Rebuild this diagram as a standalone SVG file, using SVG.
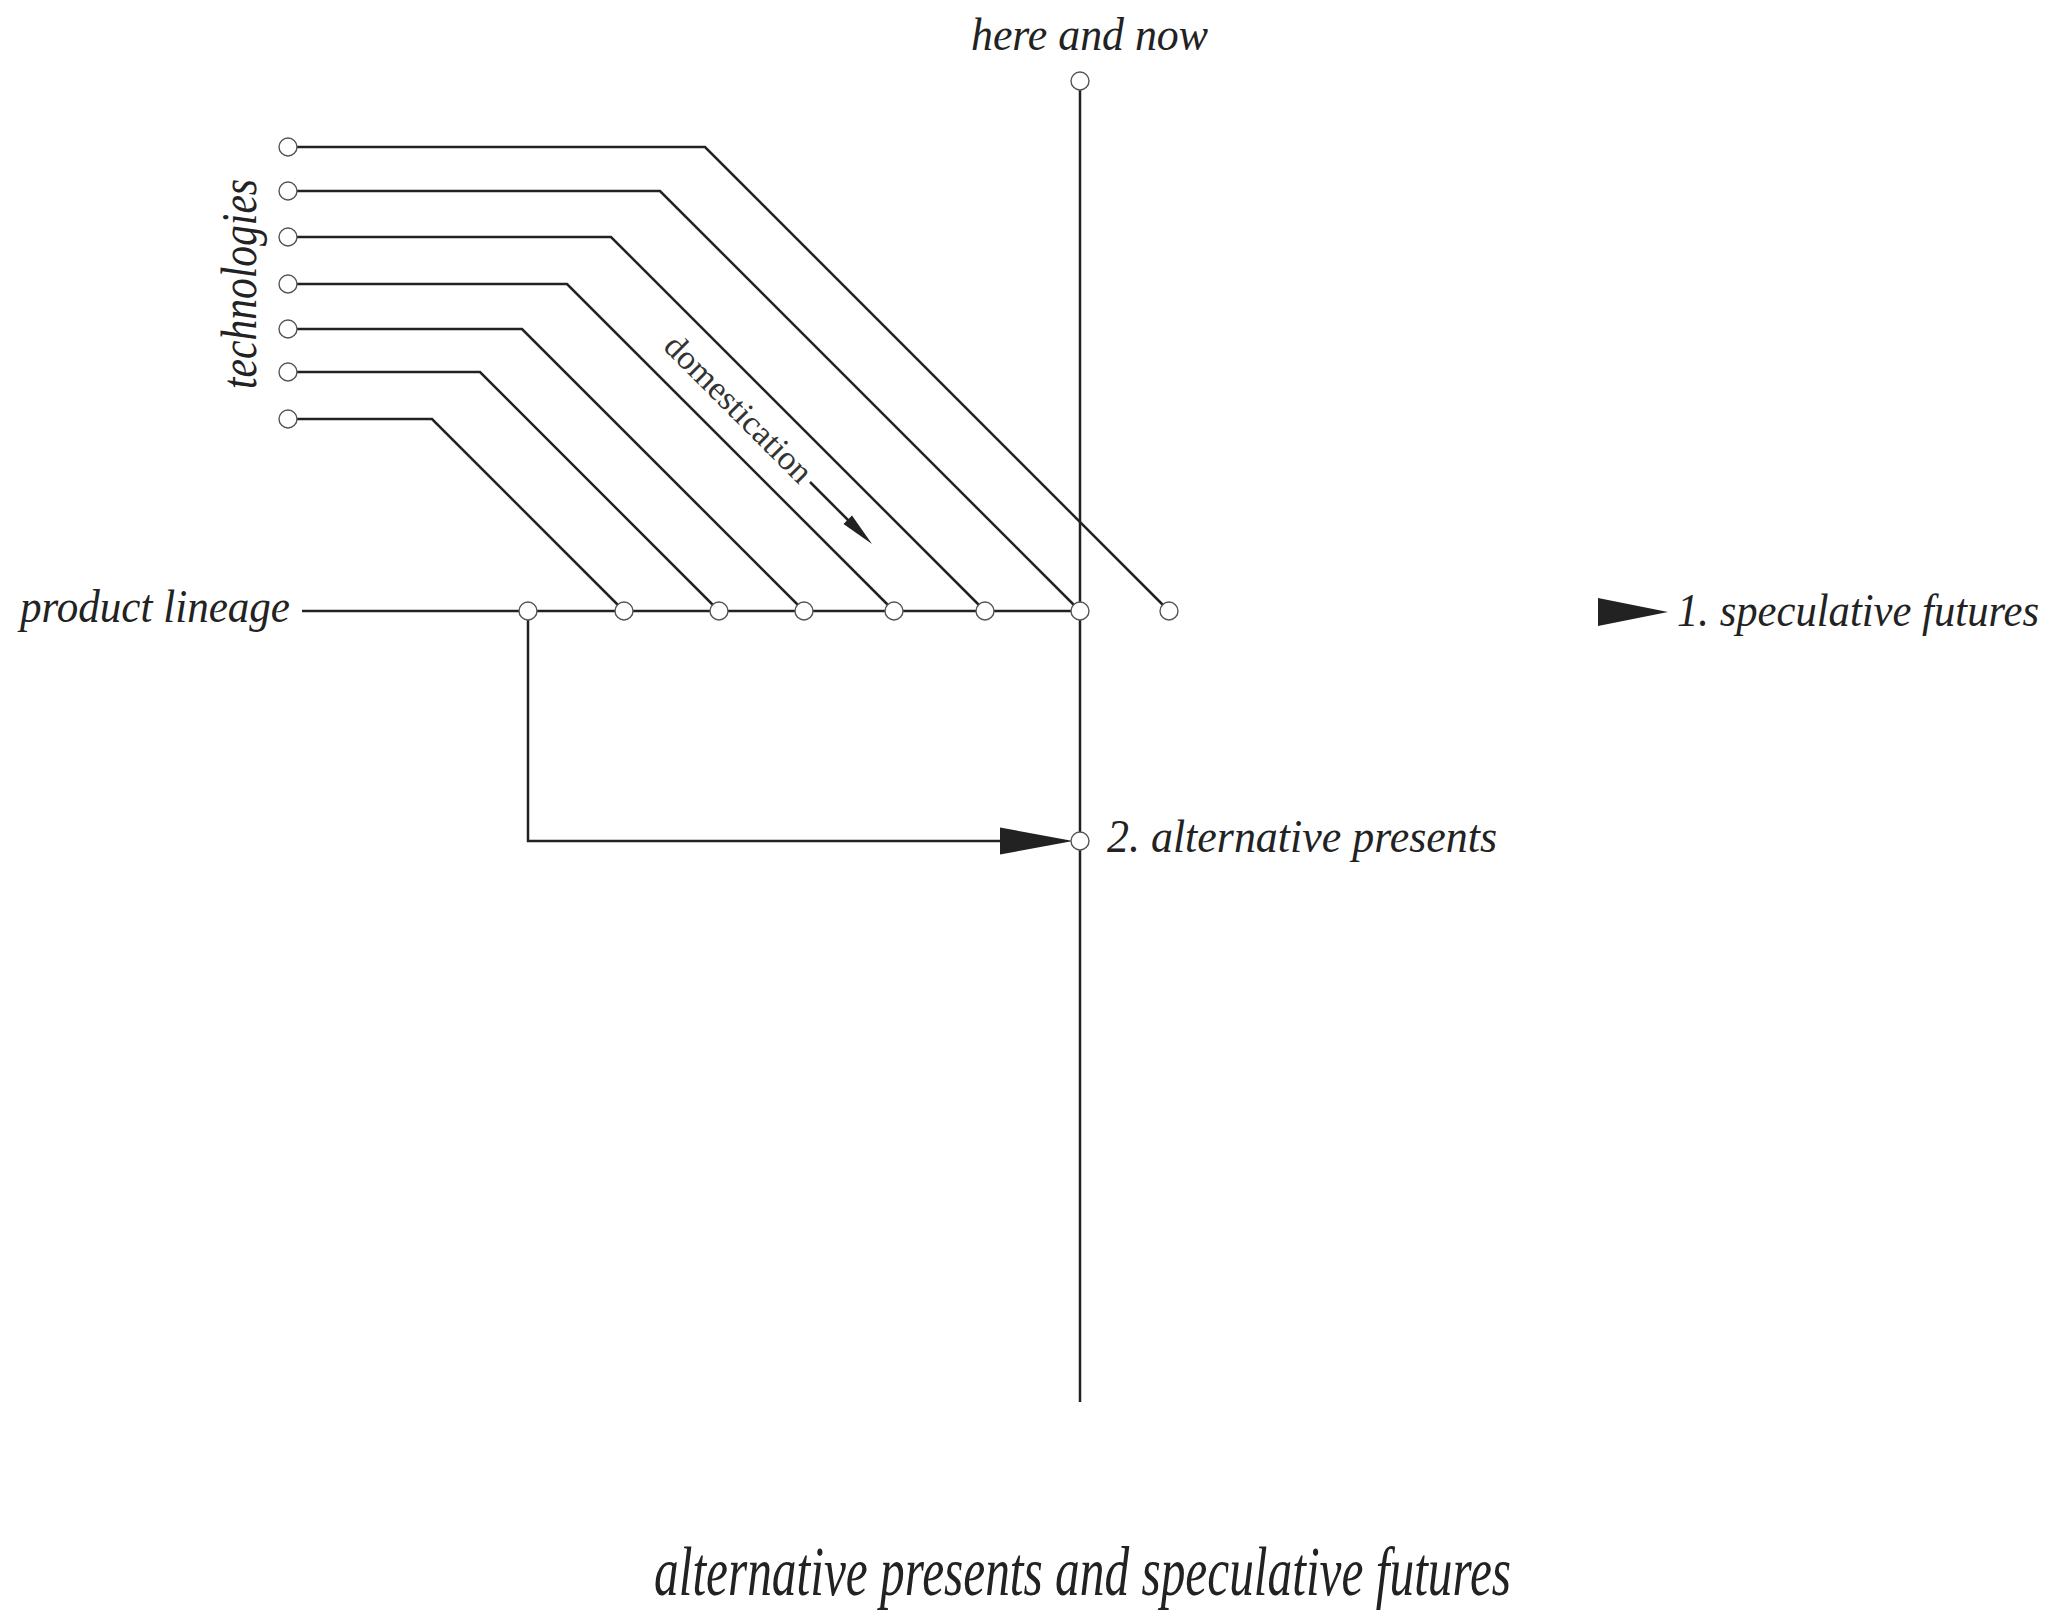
<svg xmlns="http://www.w3.org/2000/svg" width="2064" height="1611" viewBox="0 0 2064 1611">
<style>
.ln{fill:none;stroke:#222;stroke-width:2.5;stroke-linejoin:miter}
.nd{fill:#fff;stroke:#555;stroke-width:1.4}
.ar{fill:#222;stroke:none}
.t{font-family:"Liberation Serif",serif;font-style:italic;fill:#222}
.r{font-family:"Liberation Serif",serif;fill:#333}
</style>
<rect width="2064" height="1611" fill="#fff"/>
<g id="connectors">
<line class="ln" x1="1080" y1="81" x2="1080" y2="1402"/>
<line class="ln" x1="302" y1="611" x2="1080" y2="611"/>
<polyline class="ln" points="288,147 705,147 1169,611"/>
<polyline class="ln" points="288,191 660,191 1080,611"/>
<polyline class="ln" points="288,237 611,237 985,611"/>
<polyline class="ln" points="288,284 567,284 894,611"/>
<polyline class="ln" points="288,329 522,329 804,611"/>
<polyline class="ln" points="288,372 480,372 719,611"/>
<polyline class="ln" points="288,419 432,419 624,611"/>
<polyline class="ln" points="528,611 528,841 1005,841"/>
<polygon class="ar" points="1000,827.5 1073,841 1000,854.5"/>
<line class="ln" x1="810" y1="482" x2="855" y2="527"/>
<polygon class="ar" points="872,544 843.5,524 852,515.5"/>
</g>
<g id="here-and-now">
<circle class="nd" cx="1080" cy="81" r="9"/>
<text class="t" x="971" y="50" font-size="46" textLength="237" lengthAdjust="spacingAndGlyphs">here and now</text>
</g>
<g id="technologies">
<circle class="nd" cx="288" cy="147" r="9"/>
<circle class="nd" cx="288" cy="191" r="9"/>
<circle class="nd" cx="288" cy="237" r="9"/>
<circle class="nd" cx="288" cy="284" r="9"/>
<circle class="nd" cx="288" cy="329" r="9"/>
<circle class="nd" cx="288" cy="372" r="9"/>
<circle class="nd" cx="288" cy="419" r="9"/>
<text class="t" transform="translate(256,389) rotate(-90)" font-size="50" textLength="210" lengthAdjust="spacingAndGlyphs">technologies</text>
</g>
<g id="product-lineage">
<text class="t" x="20" y="622" font-size="47" textLength="270" lengthAdjust="spacingAndGlyphs">product lineage</text>
<circle class="nd" cx="528" cy="611" r="9"/>
<circle class="nd" cx="624" cy="611" r="9"/>
<circle class="nd" cx="719" cy="611" r="9"/>
<circle class="nd" cx="804" cy="611" r="9"/>
<circle class="nd" cx="894" cy="611" r="9"/>
<circle class="nd" cx="985" cy="611" r="9"/>
<circle class="nd" cx="1080" cy="611" r="9"/>
<circle class="nd" cx="1169" cy="611" r="9"/>
</g>
<g id="domestication">
<text class="r" transform="translate(662,348) rotate(45)" font-size="34" textLength="194" lengthAdjust="spacingAndGlyphs">domestication</text>
</g>
<g id="speculative-futures">
<polygon class="ar" points="1598,598 1668,612 1598,626"/>
<text class="t" x="1677" y="626" font-size="46" textLength="362" lengthAdjust="spacingAndGlyphs">1. speculative futures</text>
</g>
<g id="alternative-presents">
<circle class="nd" cx="1080" cy="841" r="9"/>
<text class="t" x="1107" y="852" font-size="46" textLength="390" lengthAdjust="spacingAndGlyphs">2. alternative presents</text>
</g>
<g id="title">
<text class="t" x="654" y="1595" font-size="70" textLength="857" lengthAdjust="spacingAndGlyphs">alternative presents and speculative futures</text>
</g>
</svg>
